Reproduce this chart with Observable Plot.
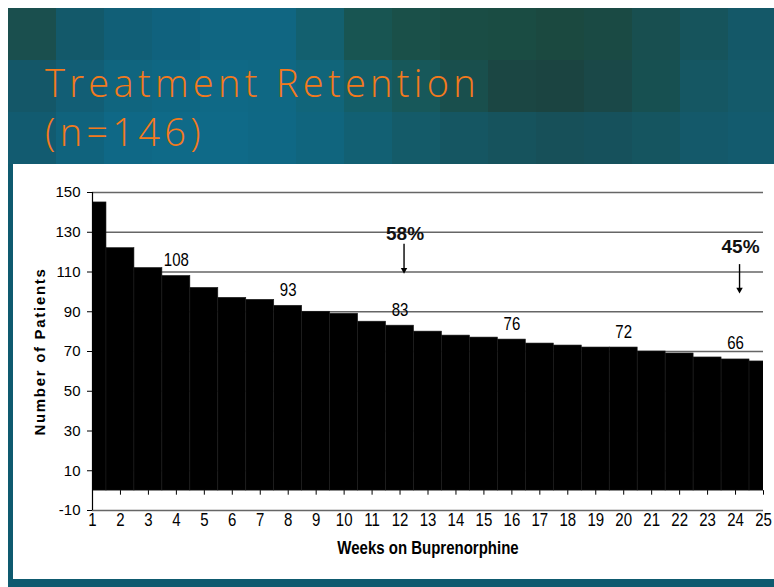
<!DOCTYPE html>
<html><head><meta charset="utf-8">
<script src="https://cdn.jsdelivr.net/npm/d3@7"></script>
<script src="https://cdn.jsdelivr.net/npm/@observablehq/plot@0.6"></script>
<style>
html,body{margin:0;padding:0;background:#fff;}
#slide{position:absolute;left:8px;top:8px;width:766px;height:579px;background:#0e5a6f;overflow:hidden;}
#mosaic{position:absolute;left:0;top:0;width:766px;height:156px;display:grid;grid-template-columns:repeat(16,48px);grid-template-rows:repeat(3,52px);}
#title{position:absolute;left:0;top:0;}
#chart{position:absolute;left:5px;top:156px;width:761px;height:415px;background:#fff;}
</style></head><body>
<div id="slide">
  <div id="mosaic"></div>
  <svg id="title" width="766" height="156">
    <g fill="#f47a1c" font-family="'Open Sans', sans-serif" font-weight="300" font-size="38" letter-spacing="4.3">
      <text x="37" y="88.5">Treatment Retention</text>
      <text x="37" y="138">(n=146)</text>
    </g>
  </svg>
  <div id="chart"></div>
</div>
<script>
// ---- data ----
const weeks = [1,2,3,4,5,6,7,8,9,10,11,12,13,14,15,16,17,18,19,20,21,22,23,24,25];
const patients = [145,122,112,108,102,97,96,93,90,89,85,83,80,78,77,76,74,73,72,72,70,69,67,66,65];
const yTicks = [-10,10,30,50,70,90,110,130,150];
const labelWeeks = [4,8,12,16,20,24];
const labelValues = [108,93,83,76,72,66];
const annotWeeks = [12,24];
const annotTexts = ["58%","45%"];
const annotTextY = [129.4,122.8];
const arrowTop = [122,111.7];
const arrowTip = [109.2,99.3];
const mosaicColors = [
 "#1a4f4e","#13596a","#115f77","#10627e","#106682","#106682","#13606f","#185552","#1a5049","#1a4d45","#1a4c43","#1b4940","#1a4a44","#184f50","#16545c","#145868",
 "#145768","#125e75","#10657f","#0f6783","#0f6986","#0f6884","#11657a","#145e68","#17585a","#194f4d","#1b4643","#1b4441","#1a4848","#175051","#155763","#145a6a",
 "#125b70","#10637d","#0f6886","#0f6a88","#0f6a88","#0f6885","#10657e","#126073","#145b69","#155662","#16535d","#175059","#16515c","#155560","#14596a","#135b6e"
];

// background mosaic (decorative)
d3.select("#mosaic").selectAll("div").data(mosaicColors).join("div").style("background", d => d);

const bars = weeks.map((w, i) => ({week: w, n: patients[i]}));
const labels = labelWeeks.map((w, i) => ({week: w, n: labelValues[i]}));
const annots = annotWeeks.map((w, i) => ({week: w, text: annotTexts[i], ty: annotTextY[i], top: arrowTop[i], tip: arrowTip[i]}));

const chart = Plot.plot({
  width: 761, height: 415,
  marginLeft: 79, marginTop: 28, marginRight: 11, marginBottom: 69,
  style: {background: "#fff", fontFamily: "'Liberation Sans', Arial, sans-serif", color: "#000", overflow: "visible"},
  x: {type: "linear", domain: [weeks[0], weeks[weeks.length - 1]]},
  y: {domain: [yTicks[0], yTicks[yTicks.length - 1]]},
  marks: [
    Plot.gridY(yTicks, {stroke: "#666", strokeOpacity: 1, strokeWidth: 1.3}),
    Plot.rectY(bars, {x1: d => d.week - 0.5, x2: d => d.week + 0.5, y1: 0, y2: "n", fill: "#000", stroke: "#1c1c1c", strokeWidth: 0.6, clip: true}),
    Plot.ruleX(weeks.slice(1), {y1: 0, y2: -2.3, stroke: "#000", strokeWidth: 1}),
    Plot.ruleX([weeks[0]], {stroke: "#000", strokeWidth: 1.2}),
    Plot.axisY({ticks: yTicks, tickSize: 5, tickPadding: 7, fontSize: 15, label: null, tickFormat: d => String(d)}),
    Plot.axisX({ticks: weeks, tickSize: 0, tickPadding: 2, fontSize: 15, label: null, tickFormat: d => String(d), ariaDescription: "stretch"}),
    Plot.text(["Number of Patients"], {frameAnchor: "left", textAnchor: "middle", rotate: -90, dx: -52, fontWeight: "bold", fontSize: 15, ariaDescription: "spaced"}),
    Plot.text(["Weeks on Buprenorphine"], {frameAnchor: "bottom", dy: 43, fontWeight: "bold", fontSize: 15, ariaDescription: "stretch"}),
    Plot.text(labels, {x: "week", y: "n", text: d => String(d.n), dy: -10, lineAnchor: "bottom", fontSize: 15, ariaDescription: "stretch"}),
    Plot.ruleX(annots, {x: "week", y1: "top", y2: "tip", dx: 4, dy: -4, stroke: "#000", strokeWidth: 1.4}),
    Plot.dot(annots, {x: "week", y: "tip", dx: 4, dy: -3.6, symbol: "triangle", rotate: 180, r: 2.4, fill: "#000", stroke: "none"}),
    Plot.text(annots, {x: "week", y: "ty", text: "text", dx: 5, fontSize: 19, fontWeight: "bold", fill: "#111"})
  ]
});
document.getElementById("chart").appendChild(chart);

// vertical stretch of narrow chart lettering
d3.select(chart).selectAll("g[aria-description='stretch'] text").each(function() {
  const t = this.getAttribute("transform") || "";
  this.setAttribute("transform", t + " scale(1,1.22)");
});
d3.select(chart).selectAll("g[aria-description='spaced'] text").style("letter-spacing", "1.7px");
</script>
</body></html>
